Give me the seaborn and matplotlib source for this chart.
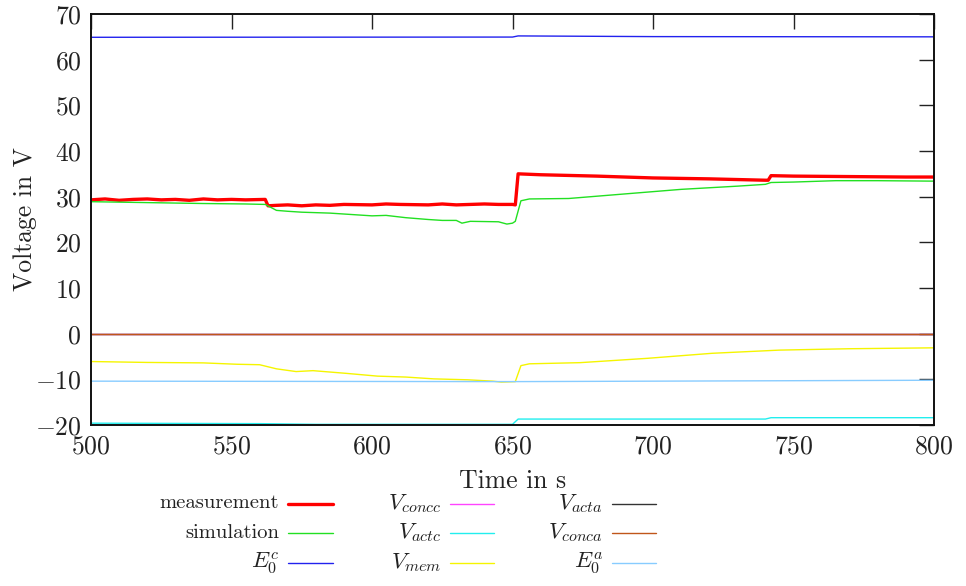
import numpy as np
import pandas as pd
import matplotlib
matplotlib.use("Agg")
import matplotlib.pyplot as plt
import seaborn as sns
from matplotlib.lines import Line2D

# ---------------- data ----------------
meas_t = [500, 505, 510, 515, 520, 525, 530, 535, 540, 545, 550, 555, 562, 563, 566, 570, 575, 580, 585, 590,
          600, 605, 610, 620, 625, 630, 640, 645, 650, 651, 652, 660, 680, 700, 720, 740, 741, 742, 750, 770, 790, 800]
meas_v = [29.3, 29.5, 29.2, 29.4, 29.5, 29.3, 29.4, 29.2, 29.5, 29.3, 29.4, 29.3, 29.4, 28.0, 28.1, 28.2, 28.0, 28.2, 28.1, 28.3,
          28.2, 28.4, 28.3, 28.2, 28.4, 28.2, 28.4, 28.3, 28.3, 28.2, 35.0, 34.8, 34.5, 34.1, 33.9, 33.6, 33.6, 34.6, 34.5, 34.4, 34.3, 34.3]

sim_t = [500, 520, 540, 555, 562, 566, 570, 575, 585, 595, 600, 605, 612, 620, 625, 630, 632, 635, 645, 648, 650, 651,
         653, 656, 670, 690, 710, 730, 740, 742, 750, 765, 780, 800]
sim_v = [28.9, 28.7, 28.5, 28.4, 28.3, 27.0, 26.8, 26.6, 26.4, 26.0, 25.8, 25.9, 25.4, 25.0, 24.8, 24.8, 24.2, 24.6, 24.5, 24.0, 24.2, 24.6,
         29.1, 29.5, 29.6, 30.6, 31.6, 32.3, 32.7, 33.1, 33.2, 33.5, 33.5, 33.4]

e0c_t = [500, 650, 652, 700, 800]
e0c_v = [64.9, 64.95, 65.2, 65.05, 65.0]

vconcc_t = [500, 800]
vconcc_v = [0.0, 0.0]

vactc_t = [500, 560, 580, 650, 652, 740, 742, 800]
vactc_v = [-19.6, -19.7, -19.85, -19.85, -18.7, -18.7, -18.4, -18.4]

vmem_t = [500, 520, 540, 552, 560, 566, 573, 579, 591, 602, 612, 622, 634, 643, 646, 651, 653, 656, 674, 698, 721, 745, 770, 800]
vmem_v = [-6.1, -6.3, -6.4, -6.7, -6.8, -7.7, -8.3, -8.1, -8.7, -9.3, -9.5, -9.9, -10.1, -10.4, -10.6, -10.5, -7.0, -6.6, -6.35, -5.4, -4.3, -3.6, -3.3, -3.1]

vacta_t = [500, 800]
vacta_v = [0.0, 0.0]

vconca_t = [500, 800]
vconca_v = [0.0, 0.0]

e0a_t = [500, 650, 800]
e0a_v = [-10.4, -10.5, -10.2]

labels = ["measurement", "simulation", r"$E_0^c$", r"$V_{concc}$", r"$V_{actc}$", r"$V_{mem}$",
          r"$V_{acta}$", r"$V_{conca}$", r"$E_0^a$"]
xticks = [500, 550, 600, 650, 700, 750, 800]
yticks = [-20, -10, 0, 10, 20, 30, 40, 50, 60, 70]

# ---------------- style ----------------
sns.set_style("white")
plt.rcParams["font.family"] = ["cmr10", "DejaVu Serif"]
plt.rcParams["mathtext.fontset"] = "cm"
plt.rcParams["axes.formatter.use_mathtext"] = True
plt.rcParams["axes.unicode_minus"] = True

series = [
    (meas_t, meas_v, "#ff0000", 2.4),
    (sim_t, sim_v, "#22e022", 1.0),
    (e0c_t, e0c_v, "#2222ee", 1.0),
    (vconcc_t, vconcc_v, "#ff44ff", 1.0),
    (vactc_t, vactc_v, "#22eeee", 1.0),
    (vmem_t, vmem_v, "#f5f500", 1.0),
    (vacta_t, vacta_v, "#333333", 1.0),
    (vconca_t, vconca_v, "#c0561a", 1.0),
    (e0a_t, e0a_v, "#88ccff", 1.0),
]

W, H = 966, 586
fig = plt.figure(figsize=(W / 100, H / 100), dpi=100)
ax = fig.add_axes([91 / W, 1 - 425 / H, (934 - 91) / W, (425 - 14) / H])

for (t, v, c, lw), lab in zip(series, labels):
    sns.lineplot(x=t, y=v, color=c, linewidth=lw, ax=ax, legend=False, label=lab)

ax.set_xlim(500, 800)
ax.set_ylim(-20, 70)
ax.set_xticks(xticks)
ax.set_yticks(yticks)
ax.tick_params(direction="in", length=11, width=1, top=True, right=True,
               labelsize=18.5, pad=7, colors="#222222")
for sp in ax.spines.values():
    sp.set_linewidth(1.4)
    sp.set_color("#111111")
ax.set_xlabel("Time in s", fontsize=18.5, labelpad=8, color="#222222")
ax.set_ylabel("Voltage in V", fontsize=18.5, labelpad=-2, color="#222222")

# key below the plot: 3 columns, label right-aligned left of its line sample (gnuplot style)
col_line_x = [(288, 333), (450, 494), (612, 656)]
row_y = [503.5, 533, 563]
for k, ((t, v, c, lw), lab) in enumerate(zip(series, labels)):
    col, row = divmod(k, 3)
    x0, x1 = col_line_x[col]
    y = 1 - row_y[row] / H
    fig.add_artist(Line2D([x0 / W, x1 / W], [y, y], color=c, linewidth=lw,
                          transform=fig.transFigure))
    fs = 16.5 if lab.startswith("$") else 14.8
    fig.text((x0 - 9) / W, y, lab, ha="right", va="center", fontsize=fs, color="#222222")

fig.savefig("out.png", dpi=100)
